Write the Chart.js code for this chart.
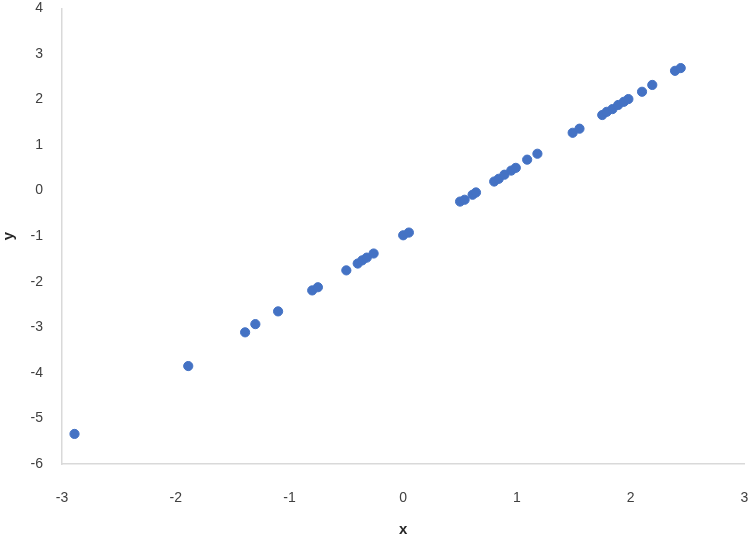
<!DOCTYPE html>
<html>
<head>
<meta charset="utf-8">
<script src="https://cdn.jsdelivr.net/npm/chart.js@4/dist/chart.umd.min.js"></script>
<style>
  html, body { margin: 0; padding: 0; background: #fff; }
  #wrap { width: 750px; height: 540px; }
</style>
</head>
<body>
<div id="wrap"><canvas id="chart1"></canvas></div>
<script>
// values
const xValues = [-2.89, -1.89, -1.39, -1.30, -1.10, -0.80, -0.75, -0.50, -0.40, -0.36,
  -0.32, -0.26, 0.00, 0.05, 0.50, 0.54, 0.61, 0.64, 0.80, 0.84,
  0.89, 0.95, 0.99, 1.09, 1.18, 1.49, 1.55, 1.75, 1.79, 1.84,
  1.89, 1.94, 1.98, 2.10, 2.19, 2.39, 2.44];
const yValues = [-5.34, -3.85, -3.11, -2.93, -2.65, -2.19, -2.12, -1.75, -1.60, -1.53,
  -1.47, -1.38, -0.98, -0.92, -0.24, -0.20, -0.09, -0.04, 0.20, 0.26,
  0.35, 0.44, 0.50, 0.68, 0.81, 1.27, 1.36, 1.66, 1.73, 1.79,
  1.88, 1.95, 2.01, 2.17, 2.32, 2.63, 2.69];
const xRange = [-3, 3];
const yRange = [-6, 4];

const points = xValues.map((x, i) => ({ x, y: yValues[i] }));

const tickFont = { family: 'Liberation Sans', size: 14 };
const titleFont = { family: 'Liberation Sans', size: 15, weight: 'bold' };

const c1 = document.getElementById('chart1');
new Chart(c1, {
  type: 'scatter',
  data: {
    datasets: [{
      label: 'y',
      data: points,
      backgroundColor: '#4472C4',
      borderColor: '#4472C4',
      pointRadius: 4.6,
      pointHoverRadius: 4.6,
    }],
  },
  options: {
    responsive: true,
    maintainAspectRatio: false,
    animation: false,
    layout: { padding: { top: 7, right: 4, left: 0, bottom: 0 } },
    plugins: { legend: { display: false }, tooltip: { enabled: false } },
    scales: {
      x: {
        type: 'linear',
        min: xRange[0],
        max: xRange[1],
        // tick marks are hidden, their length just pushes the labels away
        ticks: { stepSize: 1, color: '#404040', font: tickFont, padding: 0, maxRotation: 0 },
        grid: { display: false, drawTicks: true, tickLength: 26 },
        border: { display: true, color: '#d9d9d9', width: 1.5 },
        title: { display: true, text: 'x', color: '#262626', font: titleFont, padding: { top: 0, bottom: 1 } },
        afterFit: s => { s.height = 76; },
      },
      y: {
        type: 'linear',
        min: yRange[0],
        max: yRange[1],
        ticks: { stepSize: 1, color: '#404040', font: tickFont, padding: 0 },
        grid: { display: false, drawTicks: true, tickLength: 19 },
        border: { display: true, color: '#d9d9d9', width: 1.5 },
        title: { display: true, text: 'y', color: '#262626', font: titleFont, padding: 0 },
        afterFit: s => { s.width = 62; },
      },
    },
  },
});
</script>
</body>
</html>
